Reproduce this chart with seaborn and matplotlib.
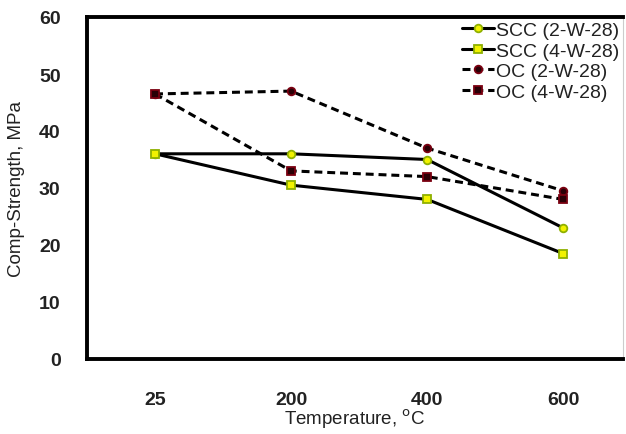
import numpy as np
import pandas as pd
import matplotlib
matplotlib.use("Agg")
import matplotlib.pyplot as plt
import seaborn as sns
from matplotlib.ticker import FixedLocator

sns.set_theme(style="white")
plt.rcParams['font.family'] = ['Liberation Sans', 'DejaVu Sans']

temps = ["25", "200", "400", "600"]
scc_2w = [36.0, 36.0, 35.0, 23.0]
scc_4w = [36.0, 30.5, 28.0, 18.5]
oc_2w = [46.5, 47.0, 37.0, 29.5]
oc_4w = [46.5, 33.0, 32.0, 28.0]
series_names = ["SCC (2-W-28)", "SCC (4-W-28)", "OC (2-W-28)", "OC (4-W-28)"]
series_vals = [scc_2w, scc_4w, oc_2w, oc_4w]

pos = np.arange(len(temps))
df = pd.concat([pd.DataFrame({"x": pos, "y": v, "s": n})
                for n, v in zip(series_names, series_vals)], ignore_index=True)

styles = {
    "SCC (2-W-28)": dict(marker="o", ls="-", mfc="#f2f200", mec="#8fb000"),
    "SCC (4-W-28)": dict(marker="s", ls="-", mfc="#f2f200", mec="#8fb000"),
    "OC (2-W-28)": dict(marker="o", ls=(0, (2.6, 1.6)), mfc="#2a0006", mec="#7a0010"),
    "OC (4-W-28)": dict(marker="s", ls=(0, (2.6, 1.6)), mfc="#2a0006", mec="#7a0010"),
}

fig = plt.figure(figsize=(6.26, 4.35), dpi=100)
ax = fig.add_axes([87/626, 75/435, (623-87)/626, (360-18)/435])

for name in series_names:
    st = styles[name]
    sub = df[df["s"] == name]
    sns.lineplot(data=sub, x="x", y="y", ax=ax, color="black", lw=2.2,
                 linestyle=st["ls"], marker=st["marker"], markersize=5.5,
                 markerfacecolor=st["mfc"], markeredgecolor=st["mec"],
                 markeredgewidth=1.3, label=name)

ax.set_xlim(-0.5, 3.44)
ax.set_ylim(0, 60)
ax.set_xticks(pos)
ax.set_xticklabels(temps)
ax.xaxis.set_minor_locator(FixedLocator([0.5, 1.5, 2.5]))
ax.set_yticks(np.arange(0, 61, 10))
ax.tick_params(axis="both", which="both", direction="inout", length=4, width=0.8,
               color="#555555", labelsize=14, pad=17)
ax.tick_params(axis="x", pad=21)
for lab in ax.get_xticklabels() + ax.get_yticklabels():
    lab.set_fontweight("bold")
    lab.set_color("#222222")

for side in ["left", "bottom", "top"]:
    ax.spines[side].set_linewidth(2.8)
    ax.spines[side].set_color("black")
ax.spines["right"].set_linewidth(0.8)
ax.spines["right"].set_color("#cccccc")

ax.set_xlabel("Temperature, $^{\\rm o}$C", fontsize=13.5, color="#222222", labelpad=-1)
ax.set_ylabel("Comp-Strength, MPa", fontsize=13.5, color="#222222", labelpad=10)

leg = ax.legend(loc="upper right", bbox_to_anchor=(1.012, 1.015), frameon=False,
                fontsize=14, handlelength=1.6, handletextpad=0.15,
                labelspacing=0.15, borderaxespad=0.1)
for t in leg.get_texts():
    t.set_color("#222222")

fig.savefig("out.png", dpi=100)
